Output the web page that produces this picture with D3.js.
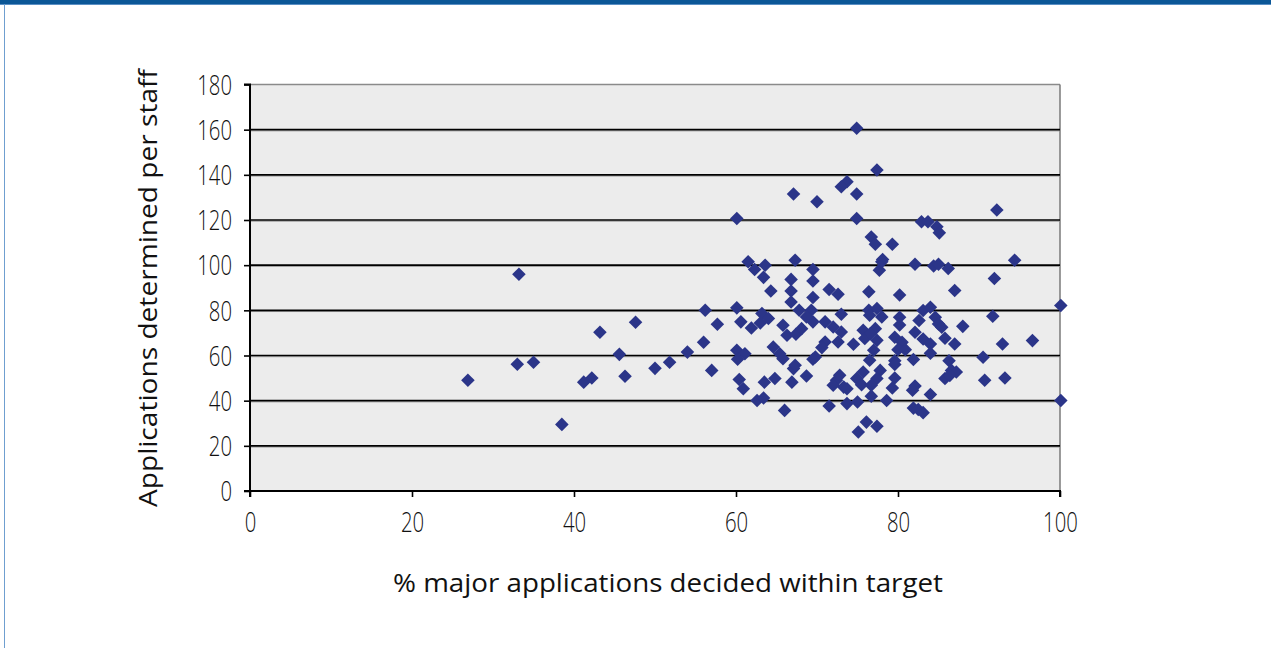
<!DOCTYPE html>
<html><head><meta charset="utf-8">
<script src="https://cdn.jsdelivr.net/npm/d3@7"></script>
<style>
html,body{margin:0;padding:0;background:#fff;}
svg{display:block;}
</style></head>
<body>
<svg id="chart" width="1271" height="648"></svg>
<script>
// ---- data (x: % major applications decided within target, y: applications determined per staff)
const pctWithinTarget = [
 26.9,33.2,33.0,35.0,38.5,41.2,42.2,43.2,45.6,46.3,47.6,50.0,51.8,54.0,56.0,56.2,57.7,57.0,
 74.9,77.4,73.7,73.0,74.9,67.1,70.0,60.1,74.9,76.7,77.2,79.3,78.1,77.7,61.5,62.3,63.6,67.3,69.5,
 63.4,64.3,69.5,66.8,66.8,66.8,69.5,71.5,72.6,76.4,78.0,60.1,60.6,61.9,63.2,64.0,63.0,65.8,66.3,67.4,68.1,67.8,69.3,69.5,68.7,71.0,72.0,73.0,73.0,72.6,71.0,70.6,74.5,75.7,75.9,76.4,77.4,76.5,78.0,77.2,77.4,77.0,60.1,61.1,64.6,65.4,69.8,
 60.2,65.8,69.5,67.1,66.9,68.7,64.8,63.5,60.4,60.9,62.6,63.4,66.0,71.5,72.4,72.0,73.3,73.7,72.8,73.7,75.0,74.9,75.5,75.7,76.5,77.8,77.4,76.7,76.7,78.6,76.1,77.4,75.1,
 92.2,82.9,83.7,84.8,85.1,82.1,84.4,85.0,86.2,94.4,91.9,
 87.0,80.2,100.1,80.2,80.2,83.1,84.0,82.6,84.6,85.0,85.4,88.0,91.7,82.1,79.6,80.5,80.0,80.9,83.1,84.0,84.0,85.8,87.0,92.9,96.6,90.5,81.9,79.6,86.3,
 79.6,79.6,79.3,82.1,81.8,84.0,86.6,87.2,85.8,86.4,90.7,93.2,100.1,81.9,82.5,83.1,
 76.6,67.3
];
const appsPerStaff = [
 49.0,96.0,56.1,57.0,29.5,48.2,50.0,70.3,60.5,50.8,74.7,54.3,57.0,61.5,65.9,80.0,73.8,53.4,
 160.6,142.1,136.9,134.7,131.5,131.5,128.1,120.7,120.7,112.5,109.3,109.3,102.5,97.8,101.5,98.1,100.0,102.2,98.1,
 94.6,88.6,93.0,93.7,88.6,83.7,85.7,89.2,87.1,88.2,101.5,81.1,74.9,72.2,78.6,76.4,74.4,73.4,69.0,69.4,71.9,80.0,80.0,74.9,77.1,74.9,72.6,70.4,78.3,66.0,66.0,63.5,65.0,71.2,67.5,80.0,80.8,77.8,77.1,71.9,66.7,62.3,62.3,60.8,63.8,60.8,59.3,
 58.3,58.6,58.3,54.2,48.2,50.9,49.8,48.2,49.4,45.3,40.1,41.2,35.7,37.6,49.0,46.8,46.0,45.3,51.2,38.7,39.4,49.8,47.1,52.7,57.9,53.4,49.8,46.8,42.0,40.1,30.5,28.7,26.1,
 124.4,119.2,119.2,117.0,114.3,100.4,99.6,100.4,98.5,102.2,94.1,
 88.8,86.8,82.1,76.9,73.5,79.9,81.4,75.5,76.9,74.0,72.5,72.9,77.4,70.3,68.1,65.9,62.6,62.6,67.3,65.1,61.0,67.6,65.1,65.1,66.6,59.2,58.2,57.7,57.7,
 56.0,50.0,45.6,46.5,44.6,42.7,53.4,52.7,49.8,51.2,49.0,50.0,40.1,36.7,36.1,34.7,
 69.7,55.7
];
const xTicks = [0,20,40,60,80,100];
const yTicks = [0,20,40,60,80,100,120,140,160,180];
const xTitle = "% major applications decided within target";
const yTitle = "Applications determined per staff";

const svg = d3.select("#chart");
const W = 1271, H = 648;

// frame
svg.append("rect").attr("x",0).attr("y",0).attr("width",W).attr("height",4).attr("fill","#0b5797");
svg.append("rect").attr("x",0).attr("y",4).attr("width",W).attr("height",1).attr("fill","#5a8fc4");
svg.append("rect").attr("x",4).attr("y",4).attr("width",1).attr("height",H-4).attr("fill","#6f9fd0");

const plot = {l:250, r:1060, t:84.5, b:491};
const x = d3.scaleLinear().domain([0,100]).range([plot.l, plot.r]);
const y = d3.scaleLinear().domain([0,180]).range([plot.b, plot.t]);

// plot background
svg.append("rect").attr("x",plot.l).attr("y",plot.t).attr("width",plot.r-plot.l).attr("height",plot.b-plot.t).attr("fill","#ececec");
svg.append("line").attr("x1",plot.l).attr("x2",plot.r).attr("y1",plot.t).attr("y2",plot.t).attr("stroke","#8a8a8a").attr("stroke-width",1.5);
svg.append("line").attr("x1",plot.r).attr("x2",plot.r).attr("y1",plot.t).attr("y2",plot.b).attr("stroke","#7a7a7a").attr("stroke-width",1.5);

// gridlines
const grid = svg.append("g");
yTicks.filter(v=>v>0 && v<180).forEach(v=>{
  grid.append("line").attr("x1",plot.l).attr("x2",plot.r).attr("y1",y(v)+1.2).attr("y2",y(v)+1.2).attr("stroke","#9a9a9a").attr("stroke-width",1);
  grid.append("line").attr("x1",plot.l).attr("x2",plot.r).attr("y1",y(v)).attr("y2",y(v)).attr("stroke","#000").attr("stroke-width",1.6);
});

// axes
const tickFont = "'Open Sans','Liberation Sans',sans-serif";
const yAxis = svg.append("g").attr("transform",`translate(${plot.l},0)`)
  .call(d3.axisLeft(y).tickValues(yTicks).tickSize(6).tickPadding(12).tickFormat(d3.format("d")));
const xAxis = svg.append("g").attr("transform",`translate(0,${plot.b})`)
  .call(d3.axisBottom(x).tickValues(xTicks).tickSize(6).tickPadding(16).tickFormat(d3.format("d")));
[xAxis,yAxis].forEach(g=>{
  g.select(".domain").attr("stroke","#000").attr("stroke-width",2);
  g.selectAll(".tick line").attr("stroke","#000").attr("stroke-width",1.6);
  g.selectAll(".tick text").attr("fill","#111").style("font-family",tickFont)
    .style("font-size","27px").style("font-weight","300");
});
yAxis.select(".domain").attr("d",`M-6,${plot.t}H0V${plot.b}H-6`);
xAxis.select(".domain").attr("d",`M${plot.l},6V0H${plot.r}V6`);
yAxis.selectAll(".tick text").each(function(){
  const t=d3.select(this); const s=t.text();
  t.attr("textLength", s.length*11.6).attr("lengthAdjust","spacingAndGlyphs").attr("dy","0.36em");
});
xAxis.selectAll(".tick text").each(function(){
  const t=d3.select(this); const s=t.text();
  t.attr("textLength", s.length*11.6).attr("lengthAdjust","spacingAndGlyphs");
});

// markers
const pts = pctWithinTarget.map((v,i)=>({x:v, y:appsPerStaff[i]}));
svg.append("g").selectAll("path").data(pts).join("path")
  .attr("d", d3.symbol().type(d3.symbolSquare).size(92))
  .attr("transform", d=>`translate(${x(d.x)},${y(d.y)}) rotate(45)`)
  .attr("fill","#2b3589");

// titles
svg.append("text").attr("x",668).attr("y",592).attr("text-anchor","middle")
  .style("font-family",tickFont).style("font-size","26px").attr("fill","#111")
  .attr("textLength",550).attr("lengthAdjust","spacingAndGlyphs").text(xTitle);
svg.append("text").attr("transform","translate(157,288) rotate(-90)").attr("text-anchor","middle")
  .style("font-family",tickFont).style("font-size","26px").attr("fill","#111")
  .attr("textLength",438).attr("lengthAdjust","spacingAndGlyphs").text(yTitle);
</script>
</body></html>
